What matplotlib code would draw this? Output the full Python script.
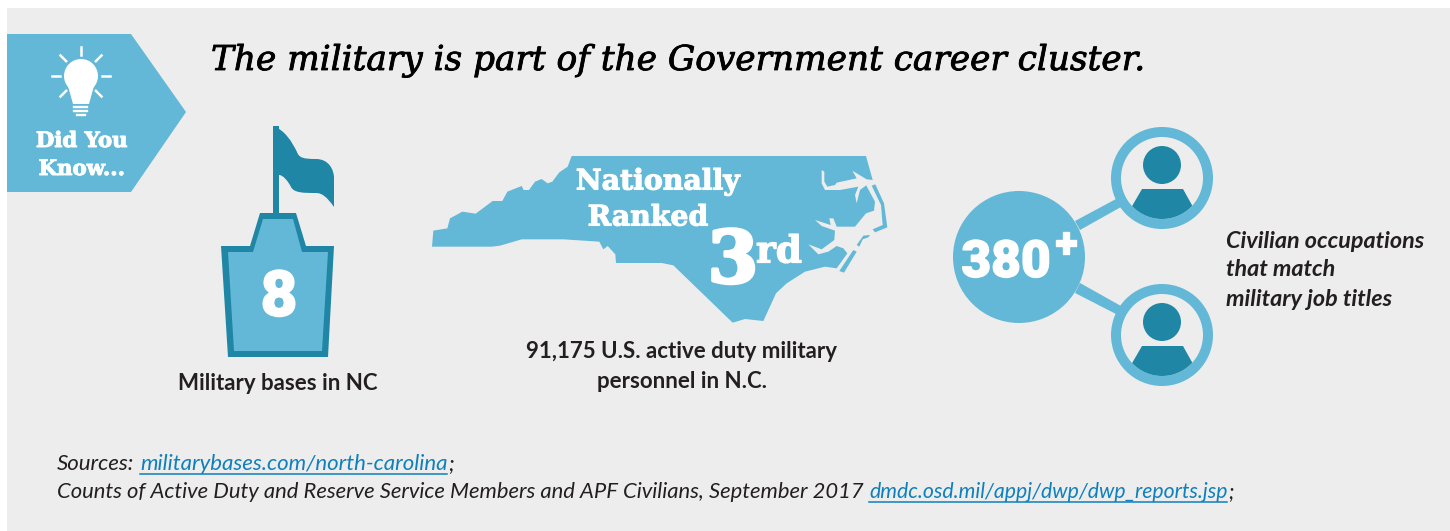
import matplotlib
matplotlib.use("Agg")
import matplotlib.pyplot as plt
import matplotlib.patheffects as pe
from matplotlib.patches import Polygon, Circle, Rectangle, PathPatch
from matplotlib.path import Path
import numpy as np

LIGHT = "#62b8d6"
DARK = "#1f87a5"
BG = "#ededed"
TXT = "#231f20"
LINK = "#0f80bd"
SLAB = "DejaVu Serif"
BODY = "Lato"
NUM = "Roboto"

# figures and wording shown in the graphic
title = "The military is part of the Government career cluster."
bases = "8"
bases_label = "Military bases in NC"
rank_words = ["Nationally", "Ranked"]
rank = "3"
rank_suffix = "rd"
personnel_label = ["91,175 U.S. active duty military", "personnel in N.C."]
occupations = "380"
occ_label = ["Civilian occupations", "that match", "military job titles"]
src_1 = "Sources:"
src_1_link = "militarybases.com/north-carolina"
src_2 = "Counts of Active Duty and Reserve Service Members and APF Civilians, September 2017"
src_2_link = "dmdc.osd.mil/appj/dwp/dwp_reports.jsp"

# state outline
state_xy = [(455, 48), (1338, 48), (1358, 120), (1338, 135), (1365, 185), (1362, 212), (1338, 220), (1305, 260),
            (1250, 260), (1240, 235), (1228, 235), (1232, 255), (1185, 240), (1205, 258), (1245, 272), (1243, 300),
            (1205, 328), (1165, 313), (1195, 343), (1225, 335), (1250, 318), (1270, 325), (1282, 340), (1250, 385),
            (1215, 380), (1155, 395), (1100, 430), (1068, 460), (1030, 543), (975, 537), (938, 548), (760, 376),
            (725, 369), (588, 369), (586, 343), (563, 318), (550, 328), (538, 305), (430, 298), (305, 298), (240, 317),
            (215, 320), (36, 320), (40, 272), (82, 265), (90, 235), (127, 215), (167, 221), (218, 183), (247, 183),
            (262, 155), (305, 138), (311, 150), (327, 150), (345, 125), (365, 117), (383, 130), (397, 125), (418, 97),
            (443, 80)]
sound_xy = [(1205, 90), (1213, 95), (1213, 125), (1222, 140), (1245, 135), (1250, 128), (1310, 115), (1297, 92),
            (1340, 118), (1360, 120), (1340, 135), (1320, 150), (1310, 190), (1305, 165), (1315, 140), (1260, 150),
            (1215, 150), (1205, 130)]
banks_xy = [[(1355, 137), (1366, 133), (1392, 190), (1402, 262), (1365, 277), (1358, 268), (1388, 255), (1383, 195)],
            [(1310, 315), (1330, 287), (1350, 285), (1345, 292), (1328, 298), (1318, 320)],
            [(1258, 393), (1300, 330), (1310, 335), (1272, 398)]]


def state_px(points):
    return [(420 + x / 3, 140 + y / 3) for x, y in points]


def heavy(width, color="white"):
    # the original slab face is heavier than anything installed
    return [pe.withStroke(linewidth=width, foreground=color)]


def underlined(x, y, s, size):
    t = ax.text(x, y, s, family=BODY, style="italic", color=LINK, fontsize=size, va="center")
    box = t.get_window_extent(fig.canvas.get_renderer())
    end = x + box.width
    ax.plot([x, end], [y + 10, y + 10], color=LINK, lw=1.1)
    return end


def person(cx, cy):
    ax.add_patch(Circle((cx, cy), 51, color=LIGHT, lw=0, zorder=3))
    inner = Circle((cx, cy), 41, color=BG, lw=0, zorder=4)
    ax.add_patch(inner)
    ax.add_patch(Circle((cx, cy - 13), 19, color=DARK, lw=0, zorder=5))
    body = Polygon([(cx - 20, cy + 11), (cx + 21, cy + 11), (cx + 45, cy + 54), (cx - 45, cy + 54)],
                   color=DARK, lw=0, zorder=5)
    ax.add_patch(body)
    body.set_clip_path(inner)


fig = plt.figure(figsize=(14.5, 5.31), dpi=100)
ax = fig.add_axes([0, 0, 1, 1])
ax.set_xlim(0, 1450)
ax.set_ylim(531, 0)
ax.axis("off")

ax.add_patch(Rectangle((7, 8), 1443, 523, color=BG, lw=0))

# banner
ax.add_patch(Polygon([(7, 34), (131, 34), (186, 112), (131, 192), (7, 192)], color=LIGHT, lw=0))
ax.add_patch(Circle((81, 76), 17, color="white", lw=0))
ax.add_patch(Polygon([(68, 86), (94, 86), (89, 104), (73, 104)], color="white", lw=0))
for y, w in [(107, 13), (111, 13), (115, 8)]:
    ax.plot([81 - w / 2, 81 + w / 2], [y, y], color="white", lw=1.7)
for a in range(0, 360, 45):
    if a == 270:
        continue
    dx, dy = np.cos(np.radians(a)), -np.sin(np.radians(a))
    ax.plot([81 + 21 * dx, 81 + 29 * dx], [76 + 21 * dy, 76 + 29 * dy], color="white", lw=1.8)
for y, line in zip([141, 169], ["Did You", "Know..."]):
    ax.text(82, y, line, family=SLAB, weight="bold", color="white", fontsize=15.3, ha="center", va="center",
            path_effects=heavy(0.7))

ax.text(211, 61, title, family=SLAB, style="italic", color="black", fontsize=24.7, va="center",
        path_effects=heavy(0.6, "black"))

# flag and base
ax.add_patch(Rectangle((273, 126), 6, 90, color=DARK, lw=0))
flag = Path([(273, 126), (285, 130), (292, 142), (297, 152), (299, 158), (304, 159), (316, 159),
             (329, 159), (334, 170), (334, 178), (334, 207), (327, 197), (322, 193), (316, 193),
             (304, 193), (294, 193), (291, 187), (288, 181), (283, 175), (279, 175), (273, 175)],
            [1, 4, 4, 4, 4, 4, 4, 4, 4, 4, 2, 4, 4, 4, 4, 4, 4, 4, 4, 4, 2])
ax.add_patch(PathPatch(flag, color=DARK, lw=0))
ax.add_patch(Polygon([(221, 246), (250, 246), (260, 213), (296, 213), (306, 246), (334, 246), (328, 357), (228, 357)],
                     color=DARK, lw=0))
ax.add_patch(Polygon([(228, 252), (253, 252), (263, 219), (293, 219), (302, 252), (328, 252), (322, 351), (234, 351)],
                     color=LIGHT, lw=0))
ax.text(279, 298, bases, family=NUM, weight="black", color="white", fontsize=46, ha="center", va="center",
        path_effects=heavy(1.0))
ax.text(278, 383, bases_label, family=BODY, weight="bold", color=TXT, fontsize=16, ha="center", va="center")

# state map
ax.add_patch(Polygon(state_px(state_xy), color=LIGHT, lw=0))
ax.add_patch(Polygon(state_px(sound_xy), color=BG, lw=0))
for strip in banks_xy:
    ax.add_patch(Polygon(state_px(strip), color=LIGHT, lw=0))
ax.text(658, 182, rank_words[0], family=SLAB, weight="bold", color="white", fontsize=20.4, ha="center", va="center",
        path_effects=heavy(0.8))
ax.text(648, 218, rank_words[1], family=SLAB, weight="bold", color="white", fontsize=20.4, ha="center", va="center",
        path_effects=heavy(0.8))
ax.text(733, 262, rank, family=SLAB, weight="bold", color="white", fontsize=52, ha="center", va="center",
        path_effects=heavy(2.5))
ax.text(779, 252, rank_suffix, family=SLAB, weight="bold", color="white", fontsize=27, ha="center", va="center",
        path_effects=heavy(0.9))
ax.text(682, 352, personnel_label[0], family=BODY, weight="bold", color=TXT, fontsize=16, ha="center", va="center")
ax.text(682, 381, personnel_label[1], family=BODY, weight="bold", color=TXT, fontsize=16, ha="center", va="center")

# occupations
ax.add_patch(Polygon([(1075, 221), (1080, 230), (1121, 207), (1116, 199)], color=LIGHT, lw=0))
ax.add_patch(Polygon([(1080, 283), (1075, 293), (1116, 314), (1121, 306)], color=LIGHT, lw=0))
ax.add_patch(Circle((1019, 257), 66, color=LIGHT, lw=0))
ax.text(1006, 263, occupations, family=NUM, weight="black", color="white", fontsize=37, ha="center", va="center",
        path_effects=heavy(1.0))
ax.text(1066, 245, "+", family=NUM, weight="black", color="white", fontsize=30, ha="center", va="center",
        path_effects=heavy(1.0))
person(1162, 178)
person(1162, 335)
for y, line in zip([241, 270, 299], occ_label):
    ax.text(1226, y, line, family=BODY, weight="bold", style="italic", color=TXT, fontsize=16.8, va="center")

# sources
fig.canvas.draw()
ax.text(57, 464, src_1, family=BODY, style="italic", color=TXT, fontsize=16, va="center")
end = underlined(140, 464, src_1_link, 16)
ax.text(end + 1, 464, ";", family=BODY, style="italic", color=TXT, fontsize=16, va="center")
ax.text(57, 492, src_2, family=BODY, style="italic", color=TXT, fontsize=15.8, va="center")
end = underlined(869, 492, src_2_link, 15.3)
ax.text(end + 1, 492, ";", family=BODY, style="italic", color=TXT, fontsize=15.3, va="center")

fig.savefig("out.png", dpi=100)
